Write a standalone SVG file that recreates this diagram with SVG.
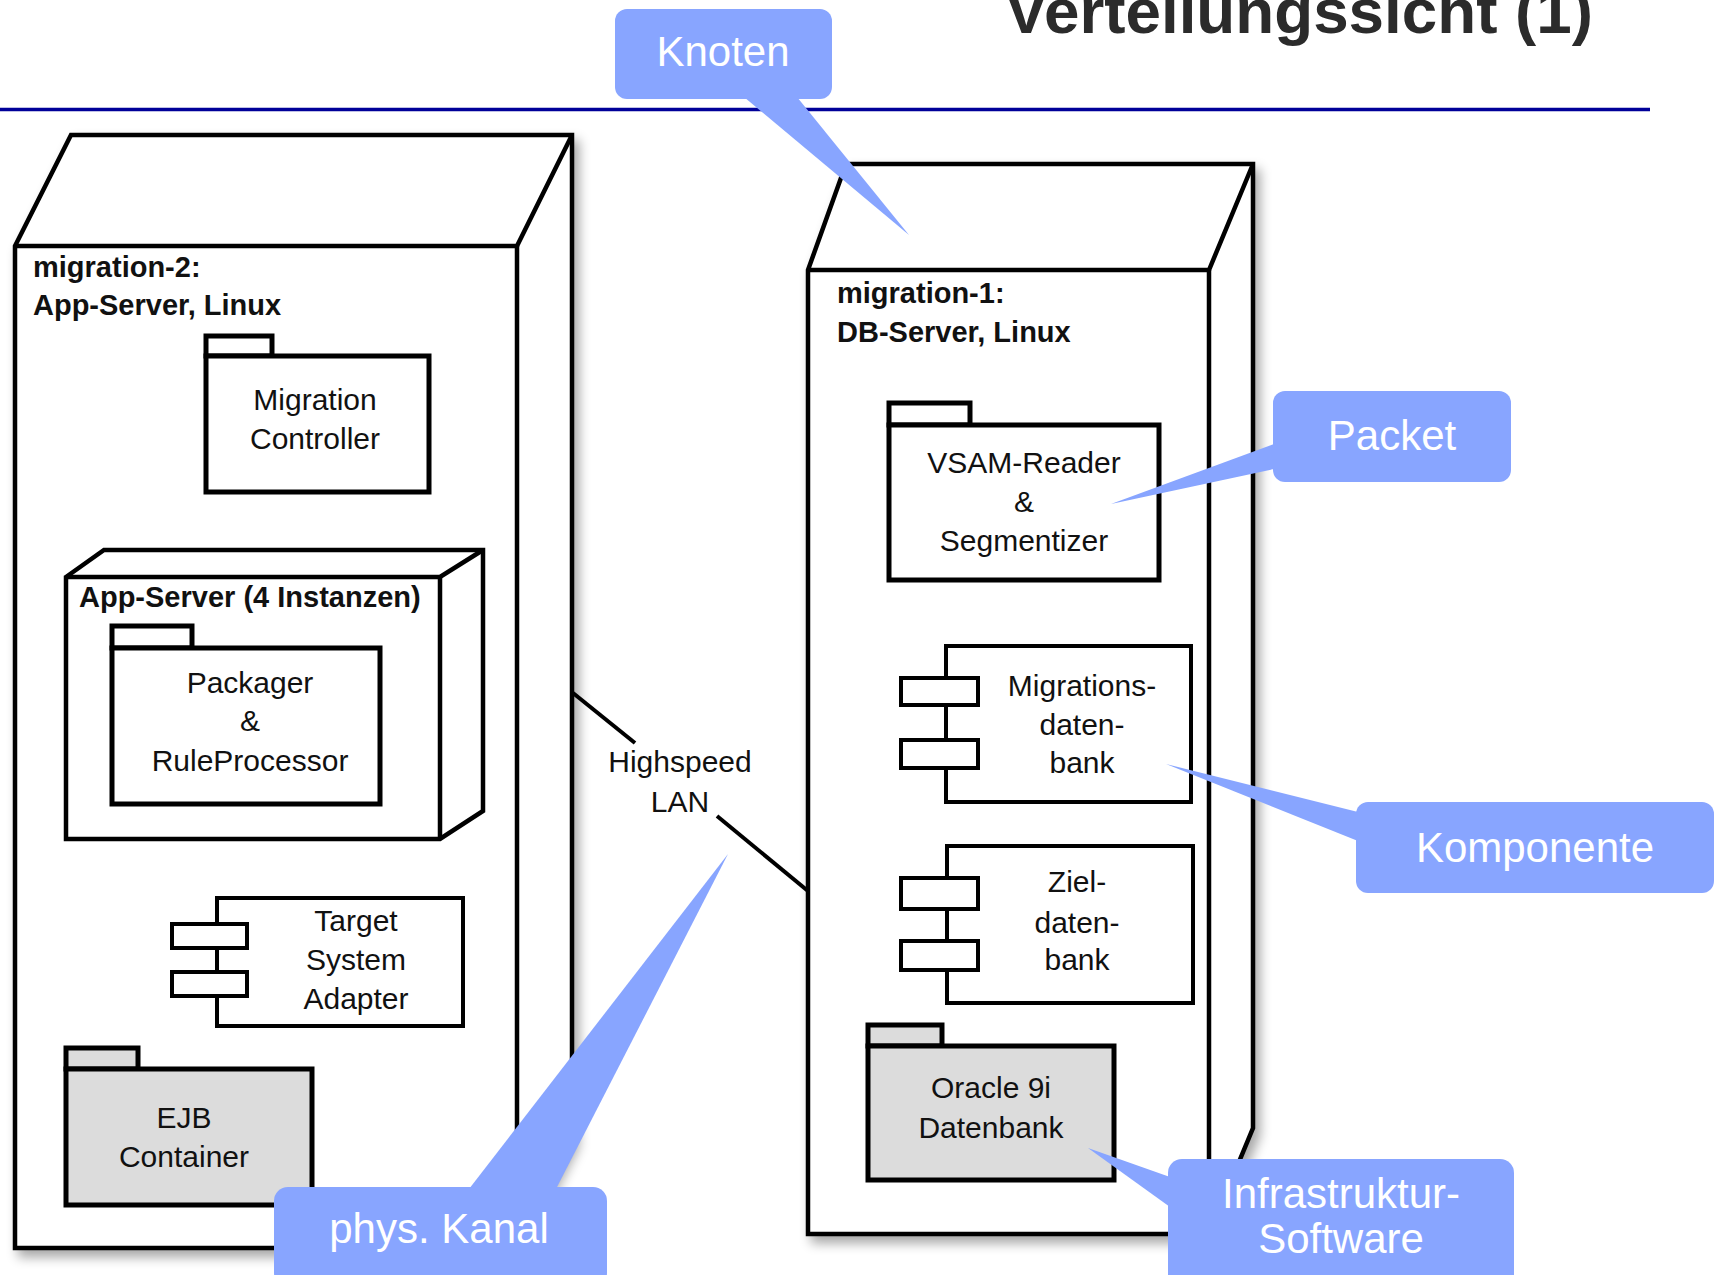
<svg xmlns="http://www.w3.org/2000/svg" width="1717" height="1275" viewBox="0 0 1717 1275">
<defs>
<filter id="sh" x="-10%" y="-10%" width="130%" height="130%">
<feGaussianBlur in="SourceAlpha" stdDeviation="6"/>
<feOffset dx="5" dy="7" result="b"/>
<feComponentTransfer><feFuncA type="linear" slope="0.35"/></feComponentTransfer>
<feMerge><feMergeNode/><feMergeNode in="SourceGraphic"/></feMerge>
</filter>
<style>
.ln{fill:none;stroke:#000;stroke-width:4.5;stroke-linejoin:miter}
.bx{fill:#fff;stroke:#000;stroke-width:4.5}
.pk{fill:#fff;stroke:#000;stroke-width:5}
.gr{fill:#dcdcdc;stroke:#000;stroke-width:5}
.cp{fill:#fff;stroke:#000;stroke-width:4}
.t{font-family:"Liberation Sans",Arial,sans-serif;font-size:30px;fill:#111;text-anchor:middle}
.tb{font-family:"Liberation Sans",Arial,sans-serif;font-size:29px;font-weight:bold;fill:#111}
.co{fill:#88a5ff}
.ct{font-family:"Liberation Sans",Arial,sans-serif;font-size:42px;fill:#fff;text-anchor:middle}
.con{fill:none;stroke:#000;stroke-width:4}
</style>
</defs>
<rect width="1717" height="1275" fill="#fff"/>
<text x="1005" y="33" textLength="588" lengthAdjust="spacingAndGlyphs" style="font-family:'Liberation Sans',Arial,sans-serif;font-size:63px;font-weight:bold;fill:#2b2b2b">Verteilungssicht (1)</text>
<line x1="0" y1="109.5" x2="1650" y2="109.5" stroke="#000099" stroke-width="3.5"/>

<g id="migration-2">
<polygon class="bx" filter="url(#sh)" points="15,246 71,135 572,135 572,1139 517,1248 15,1248"/>
<polyline class="ln" points="15,246 517,246 572,135"/>
<line class="ln" x1="517" y1="246" x2="517" y2="1248"/>
<text class="tb" x="33" y="277">migration-2:</text>
<text class="tb" x="33" y="315">App-Server, Linux</text>
</g>

<g id="migration-controller">
<rect class="pk" x="206" y="336" width="66" height="20"/>
<rect class="pk" x="206" y="356" width="223" height="136"/>
<text class="t" x="315" y="410">Migration</text>
<text class="t" x="315" y="449">Controller</text>
</g>

<g id="app-server-instanzen">
<polygon class="bx" points="66,577 104,550 483,550 483,811 440,839 66,839"/>
<polyline class="ln" points="66,577 440,577 483,550"/>
<line class="ln" x1="440" y1="577" x2="440" y2="839"/>
<text class="tb" x="79" y="607">App-Server (4 Instanzen)</text>
</g>

<g id="packager">
<rect class="pk" x="112" y="626" width="80" height="22"/>
<rect class="pk" x="112" y="648" width="268" height="156"/>
<text class="t" x="250" y="693">Packager</text>
<text class="t" x="250" y="731">&amp;</text>
<text class="t" x="250" y="771">RuleProcessor</text>
</g>

<g id="target-system-adapter">
<rect class="cp" x="217" y="898" width="246" height="128"/>
<rect class="cp" x="172" y="924" width="75" height="24"/>
<rect class="cp" x="172" y="972" width="75" height="24"/>
<text class="t" x="356" y="931">Target</text>
<text class="t" x="356" y="970">System</text>
<text class="t" x="356" y="1009">Adapter</text>
</g>

<g id="ejb-container">
<rect class="gr" x="66" y="1048" width="72" height="21"/>
<rect class="gr" x="66" y="1069" width="246" height="136"/>
<text class="t" x="184" y="1128">EJB</text>
<text class="t" x="184" y="1167">Container</text>
</g>

<g id="migration-1">
<polygon class="bx" filter="url(#sh)" points="808,270 846,164 1253,164 1253,1128 1209,1234 808,1234"/>
<polyline class="ln" points="808,270 1209,270 1253,164"/>
<line class="ln" x1="1209" y1="270" x2="1209" y2="1234"/>
<text class="tb" x="837" y="303">migration-1:</text>
<text class="tb" x="837" y="342">DB-Server, Linux</text>
</g>

<g id="vsam-reader">
<rect class="pk" x="889" y="403" width="81" height="22"/>
<rect class="pk" x="889" y="425" width="270" height="155"/>
<text class="t" x="1024" y="473">VSAM-Reader</text>
<text class="t" x="1024" y="512">&amp;</text>
<text class="t" x="1024" y="551">Segmentizer</text>
</g>

<g id="migrationsdatenbank">
<rect class="cp" x="946" y="646" width="245" height="156"/>
<rect class="cp" x="901" y="678" width="77" height="27"/>
<rect class="cp" x="901" y="740" width="77" height="28"/>
<text class="t" x="1082" y="696">Migrations-</text>
<text class="t" x="1082" y="735">daten-</text>
<text class="t" x="1082" y="773">bank</text>
</g>

<g id="zieldatenbank">
<rect class="cp" x="947" y="846" width="246" height="157"/>
<rect class="cp" x="901" y="878" width="77" height="31"/>
<rect class="cp" x="901" y="941" width="77" height="29"/>
<text class="t" x="1077" y="892">Ziel-</text>
<text class="t" x="1077" y="933">daten-</text>
<text class="t" x="1077" y="970">bank</text>
</g>

<g id="oracle">
<rect class="gr" x="868" y="1025" width="74" height="21"/>
<rect class="gr" x="868" y="1046" width="246" height="134"/>
<text class="t" x="991" y="1098">Oracle 9i</text>
<text class="t" x="991" y="1138">Datenbank</text>
</g>

<g id="connectors">
<line class="con" x1="573" y1="693" x2="635" y2="743"/>
<line class="con" x1="717" y1="816" x2="808" y2="891"/>
<text class="t" x="680" y="772">Highspeed</text>
<text class="t" x="680" y="812">LAN</text>
</g>

<g id="callout-knoten">
<polygon class="co" points="744,97 797,97 909,235"/>
<rect class="co" x="615" y="9" width="217" height="90" rx="12"/>
<text class="ct" x="723" y="66">Knoten</text>
</g>

<g id="callout-packet">
<polygon class="co" points="1274,444 1274,469 1111,504"/>
<rect class="co" x="1273" y="391" width="238" height="91" rx="12"/>
<text class="ct" x="1392" y="450">Packet</text>
</g>

<g id="callout-komponente">
<polygon class="co" points="1358,812 1358,841 1166,764"/>
<rect class="co" x="1356" y="802" width="358" height="91" rx="12"/>
<text class="ct" x="1535" y="862">Komponente</text>
</g>

<g id="callout-infrastruktur">
<polygon class="co" points="1170,1177 1170,1207 1088,1148"/>
<rect class="co" x="1168" y="1159" width="346" height="130" rx="14"/>
<text class="ct" x="1341" y="1208">Infrastruktur-</text>
<text class="ct" x="1341" y="1253">Software</text>
</g>

<g id="callout-kanal">
<polygon class="co" points="469,1189 556,1189 728,854"/>
<rect class="co" x="274" y="1187" width="333" height="100" rx="14"/>
<text class="ct" x="439" y="1243">phys. Kanal</text>
</g>
</svg>
